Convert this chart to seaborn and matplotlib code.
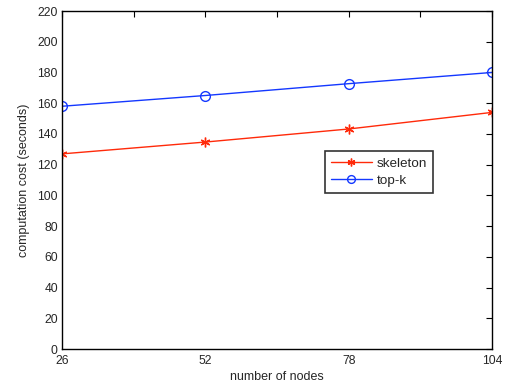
import matplotlib
matplotlib.use("Agg")
import matplotlib.pyplot as plt
import seaborn as sns
import pandas as pd

nodes = [26, 52, 78, 104]
skeleton = [127, 134.7, 143.2, 154]
topk = [158, 165, 172.7, 180]
yticks = list(range(0, 221, 20))

sns.set_style("white")
plt.rcParams['font.family'] = ['Liberation Sans', 'DejaVu Sans']

df = pd.DataFrame({
    "nodes": nodes * 2,
    "cost": skeleton + topk,
    "method": ["skeleton"] * 4 + ["top-k"] * 4,
})

fig = plt.figure(figsize=(5.11, 3.87), dpi=100)
ax = fig.add_axes([62/511, 38/387, 430/511, 338/387])

red = "#ff2a0a"
blue = "#1438ff"
colors = {"skeleton": red, "top-k": blue}
sns.lineplot(data=df, x="nodes", y="cost", hue="method",
             palette=colors, ax=ax, linewidth=1.0, legend=False)

lines = ax.get_lines()
markers = {"skeleton": (6, 2, 0), "top-k": "o"}
for line, key in zip(lines, ["skeleton", "top-k"]):
    line.set_marker(markers[key])
    line.set_markersize(7)
    line.set_markerfacecolor("none")
    line.set_markeredgecolor(colors[key])
    line.set_markeredgewidth(1.0)
    line.set_label(key)

ax.set_xlim(26, 104)
ax.set_ylim(0, 220)
ax.set_xticks(nodes)
ax.set_xticks([39, 65, 91], minor=True)
ax.set_yticks(yticks)
ax.tick_params(which="both", direction="in", top=True, right=True,
               length=4, width=0.8, labelsize=8.7, color="black", pad=3)
ax.tick_params(axis="x", pad=4)
for s in ax.spines.values():
    s.set_color("black")
    s.set_linewidth(1.0)
ax.set_xlabel("number of nodes", fontsize=9, labelpad=3)
ax.set_ylabel("computation cost (seconds)", fontsize=9, labelpad=5)

leg = ax.legend(lines[:2], ["skeleton", "top-k"], loc="upper left",
                bbox_to_anchor=(0.612, 0.585),
                frameon=True, fancybox=False, fontsize=9.7, edgecolor="black",
                handlelength=3.0, borderpad=0.45, labelspacing=0.35,
                handletextpad=0.4, borderaxespad=0, markerscale=0.8)
leg.get_frame().set_linewidth(1.2)

fig.savefig("out.png", dpi=100)
